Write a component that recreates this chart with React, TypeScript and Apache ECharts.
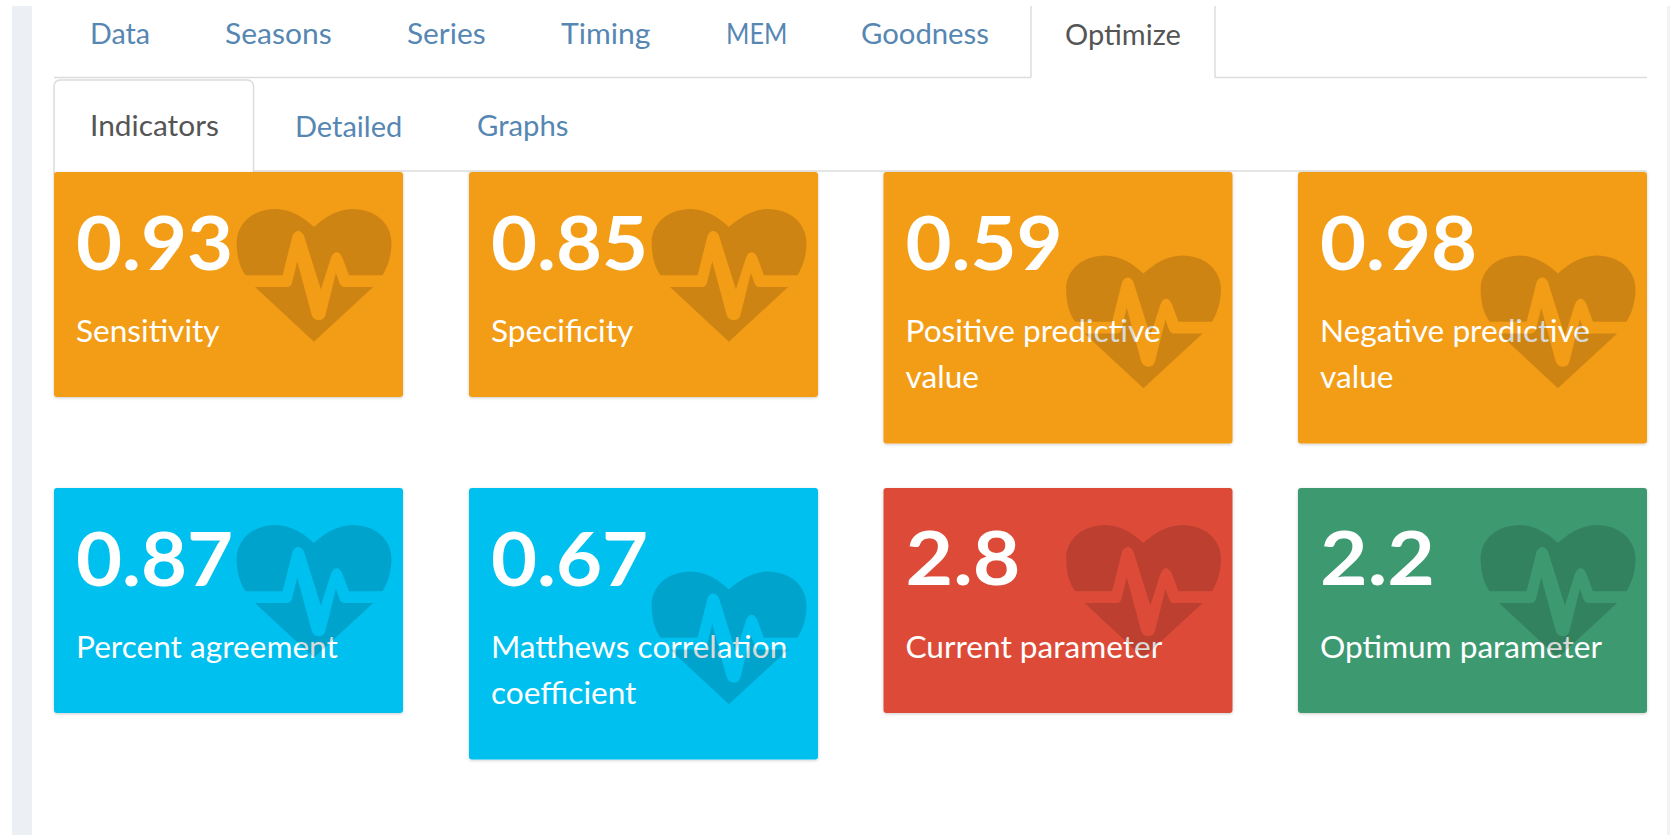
import React, { useEffect, useRef } from "react";
import * as echarts from "echarts";

const outerTabs = ["Data", "Seasons", "Series", "Timing", "MEM", "Goodness", "Optimize"];
const innerTabs = ["Indicators", "Detailed", "Graphs"];
const tileValues = ["0.93", "0.85", "0.59", "0.98", "0.87", "0.67", "2.8", "2.2"];
const tileLabels = [
  ["Sensitivity"],
  ["Specificity"],
  ["Positive predictive", "value"],
  ["Negative predictive", "value"],
  ["Percent agreement"],
  ["Matthews correlation", "coefficient"],
  ["Current parameter"],
  ["Optimum parameter"],
];
const tileColors = ["#f39c12", "#f39c12", "#f39c12", "#f39c12", "#00c0ef", "#00c0ef", "#dd4b39", "#3d9970"];

const outerTabX = [90, 225, 407, 561, 726, 861, 1065];
const outerTabScale = [0.99, 1.035, 1.03, 1.04, 0.87, 1.01, 1.0];
const innerTabX = [90, 295, 477];
const innerTabScale = [1.03, 1.0, 1.01];
const colX = [54, 469, 883.5, 1298];
const rowY = [172, 488];
const TILE_W = 349;
const FONT = "Lato";

const HEART =
  "M137 257C120 235 110 200 110 160C110 100 160 58 228 58C270 58 315 85 342 112C370 85 415 58 458 58C525 58 575 100 575 160C575 200 562 235 548 257L447 257L428 205Q420 188 410 188Q400 188 393 205L363 300L312 138Q305 124 295 124Q285 124 278 138L248 257Z" +
  "M165 292L262 292Q272 292 276 280L292 215L335 375Q340 392 357 392Q373 392 377 375L408 250L420 283Q424 292 434 292L520 292L342 457Z";
echarts.graphic.registerShape("heartbeat", echarts.graphic.extendPath(HEART, {}) as any);

function text(t: string, x: number, y: number, size: number, fill: string, weight = "normal", scaleX = 1): any {
  return {
    type: "text",
    x,
    y,
    scaleX,
    originX: 0,
    style: { text: t, x: 0, y: 0, fill, fontFamily: FONT, fontSize: size, fontWeight: weight, verticalAlign: "middle", align: "left" },
  };
}

function line(x1: number, y1: number, x2: number, y2: number, stroke = "#dcdcdc", lineWidth = 1.5): any {
  return { type: "line", shape: { x1, y1, x2, y2 }, style: { stroke, lineWidth } };
}

function buildGraphic() {
  const el: any[] = [];
  // page frame
  el.push({ type: "rect", shape: { x: 12, y: 6, width: 20, height: 829 }, style: { fill: "#ecf0f5" } });
  el.push({ type: "rect", shape: { x: 1667, y: 6, width: 3, height: 829 }, style: { fill: "#f0f2f5" } });

  // outer tab strip
  el.push(line(54, 77.5, 1031, 77.5));
  el.push(line(1215, 77.5, 1647, 77.5));
  el.push(line(1031, 6, 1031, 77.5));
  el.push(line(1215, 6, 1215, 77.5));
  outerTabs.forEach((t, i) => {
    el.push(text(t, outerTabX[i], 33, 29, i === outerTabs.length - 1 ? "#555555" : "#5687b3", "normal", outerTabScale[i]));
  });

  // inner tab strip
  el.push(line(253, 171, 1647, 171));
  el.push({
    type: "rect",
    shape: { x: 54, y: 80, width: 199.5, height: 94, r: [6, 6, 0, 0] },
    style: { fill: "#ffffff", stroke: "#dcdcdc", lineWidth: 1.5 },
  });
  innerTabs.forEach((t, i) => {
    el.push(text(t, innerTabX[i], 125, 29, i === 0 ? "#555555" : "#5687b3", "normal", innerTabScale[i]));
  });

  // tiles
  tileValues.forEach((v, i) => {
    const col = i % 4;
    const row = i < 4 ? 0 : 1;
    const lines = tileLabels[i];
    const x = colX[col];
    const y = rowY[row];
    const h = lines.length > 1 ? 271.5 : 225;
    el.push({
      type: "rect",
      shape: { x, y, width: TILE_W, height: h, r: 3 },
      style: { fill: tileColors[i], shadowBlur: 3, shadowOffsetY: 1, shadowColor: "rgba(0,0,0,0.2)" },
    });
    el.push(text(v, x + 22, y + 69, 74, "#ffffff", "bold", v.length === 3 ? 1.11 : 1.074));
    lines.forEach((l, j) => {
      el.push(text(l, x + 22, y + 158 + j * 46, 31, "#ffffff", "normal", 1.02));
    });
    const s = 1 / 3;
    el.push({
      type: "heartbeat",
      x: x + 182.7 - 110 * s,
      y: y + h - 55 - 133 - 58 * s,
      scaleX: s,
      scaleY: s,
      style: { fill: "rgba(0,0,0,0.15)" },
    });
  });
  return el;
}

export default function App() {
  const ref = useRef<HTMLDivElement>(null);
  useEffect(() => {
    const chart = echarts.init(ref.current!, undefined, { renderer: "svg" });
    chart.setOption({ animation: false, backgroundColor: "#ffffff", graphic: { elements: buildGraphic() } });
    return () => chart.dispose();
  }, []);
  return <div ref={ref} style={{ position: "fixed", left: 0, top: 0, width: 1670, height: 835 }} />;
}
